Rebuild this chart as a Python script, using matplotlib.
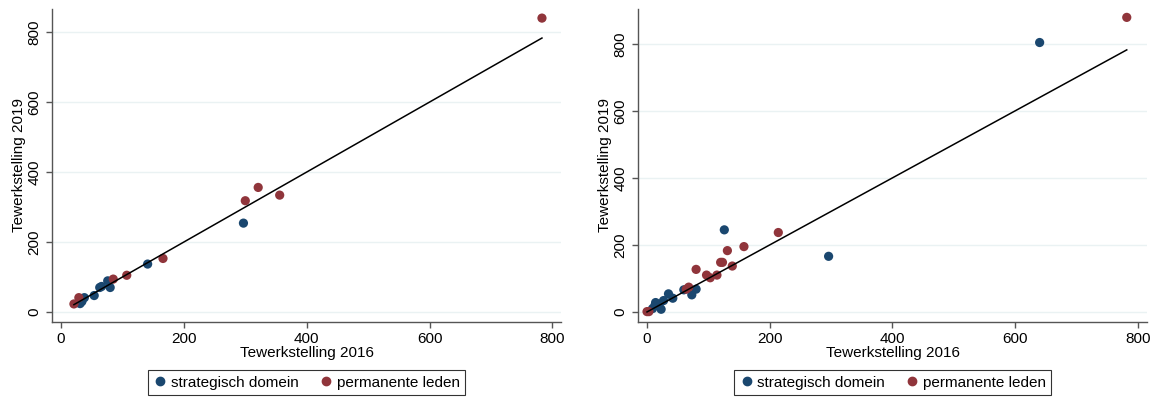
import numpy as np
import matplotlib
matplotlib.use("Agg")
import matplotlib.pyplot as plt
from matplotlib.lines import Line2D

plt.rcParams['font.family'] = ['Liberation Sans', 'DejaVu Sans']

# left panel
l_blue_x = [141, 297, 76, 80, 63, 66, 54, 38, 34, 31]
l_blue_y = [137, 254, 89, 70, 70, 73, 47, 41, 30, 24]
l_red_x = [21, 29, 85, 107, 166, 300, 321, 356, 783]
l_red_y = [23, 41, 94, 105, 153, 318, 356, 334, 840]

# right panel
r_blue_x = [126, 296, 60, 80, 73, 35, 42, 27, 14, 23, 20, 9, 13, 640]
r_blue_y = [245, 166, 66, 68, 51, 54, 41, 34, 28, 8, 23, 10, 20, 804]
r_red_x = [214, 158, 131, 120, 123, 139, 80, 97, 103, 114, 68, 64, 3, 0, 782]
r_red_y = [237, 195, 183, 148, 148, 137, 127, 110, 102, 110, 74, 68, 1, 1, 879]

labels = ["strategisch domein", "permanente leden"]
blue = "#1a476f"
red = "#90353b"
grid_c = "#eaf2f3"
axis_c = "#555555"

fig = plt.figure(figsize=(11.57, 3.98), dpi=100)

panels = [
    ([52/1157, 1-322/398, 509/1157, 313/398], l_blue_x, l_blue_y, l_red_x, l_red_y,
     (-14.7, 814), (-28.6, 866)),
    ([638/1157, 1-322/398, 509/1157, 313/398], r_blue_x, r_blue_y, r_red_x, r_red_y,
     (-14.7, 815), (-30, 904)),
]

for pos, bx, by, rx, ry, xl, yl in panels:
    ax = fig.add_axes(pos)
    ax.scatter(bx, by, s=44, color=blue, edgecolors='none', zorder=3)
    ax.scatter(rx, ry, s=44, color=red, edgecolors='none', zorder=3)
    allx = bx + rx
    lo, hi = min(allx), max(allx)
    ax.plot([lo, hi], [lo, hi], color='black', lw=1.1, zorder=4)
    ax.set_xlim(*xl)
    ax.set_ylim(*yl)
    ax.set_xticks([0, 200, 400, 600, 800])
    ax.set_yticks([0, 200, 400, 600, 800])
    for t in [0, 200, 400, 600, 800]:
        ax.axhline(t, color=grid_c, lw=1.0, zorder=1)
    for s in ['top', 'right']:
        ax.spines[s].set_visible(False)
    for s in ['left', 'bottom']:
        ax.spines[s].set_color(axis_c)
        ax.spines[s].set_linewidth(1.0)
    ax.tick_params(axis='both', colors=axis_c, labelcolor='black', labelsize=11,
                   length=4, width=1.0, direction='out')
    plt.setp(ax.get_yticklabels(), rotation=90, va='center')
    ax.set_xlabel("Tewerkstelling 2016", fontsize=11, labelpad=0)
    ax.set_ylabel("Tewerkstelling 2019", fontsize=11, labelpad=1)
    handles = [Line2D([], [], marker='o', ls='none', color=blue, markersize=6),
               Line2D([], [], marker='o', ls='none', color=red, markersize=6)]
    cx = pos[0] + pos[2] / 2
    leg = fig.legend(handles, labels, loc='center', bbox_to_anchor=(cx, 1-382.5/398),
                     ncol=2, fontsize=11, frameon=True, fancybox=False,
                     handletextpad=0.2, columnspacing=1.3, borderpad=0.35,
                     handlelength=1.0)
    leg.get_frame().set_edgecolor('black')
    leg.get_frame().set_linewidth(0.8)

fig.savefig("out.png", dpi=100)
